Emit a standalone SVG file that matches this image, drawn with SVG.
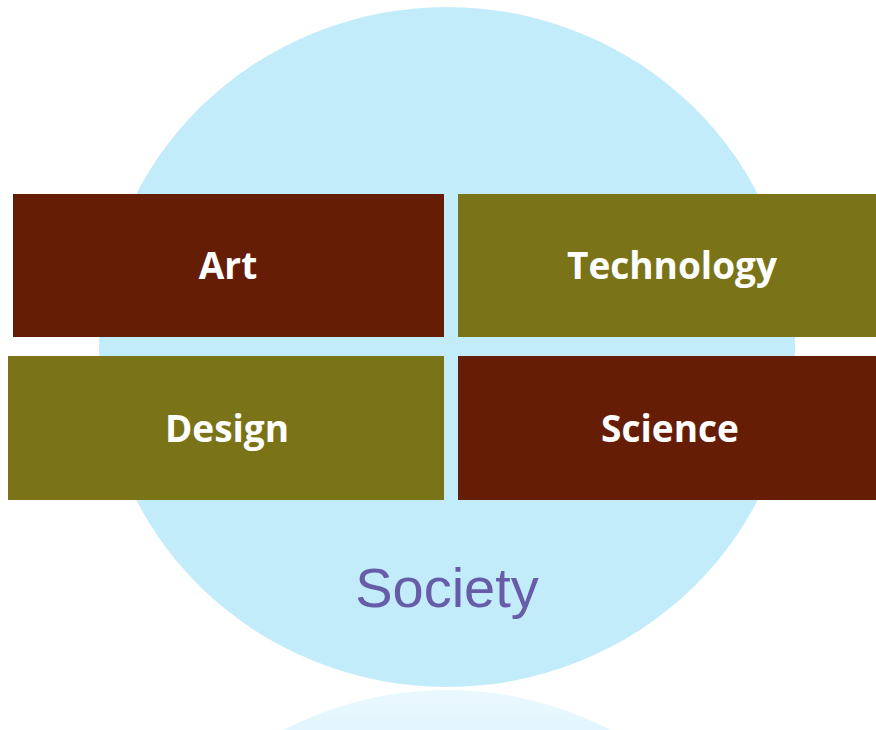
<svg xmlns="http://www.w3.org/2000/svg" width="876" height="730" viewBox="0 0 876 730">
<defs>
<linearGradient id="refl" x1="0" y1="0" x2="0" y2="1" gradientUnits="objectBoundingBox">
<stop offset="0" stop-color="#c3ecfb" stop-opacity="0.35"/>
<stop offset="0.1" stop-color="#c3ecfb" stop-opacity="0.55"/>
<stop offset="0.3" stop-color="#c3ecfb" stop-opacity="0"/>
</linearGradient>
<style>
.box text{font-family:"Open Sans","DejaVu Sans",sans-serif;font-weight:bold;font-size:37px;fill:#ffffff;text-anchor:middle}
.red{fill:#661d06}
.olive{fill:#7a7318}
</style>
</defs>
<rect width="876" height="730" fill="#ffffff"/>
<g id="society">
<ellipse cx="447" cy="347" rx="348" ry="340" fill="#c3ecfb"/>
<ellipse cx="447" cy="1030" rx="348" ry="340" fill="url(#refl)"/>
<text x="447" y="607" font-family="Liberation Sans, Arial, sans-serif" font-size="56" fill="#665ca8" text-anchor="middle">Society</text>
</g>
<g id="art" class="box">
<rect class="red" x="13" y="194" width="431" height="143"/>
<text x="228" y="279">Art</text>
</g>
<g id="technology" class="box">
<rect class="olive" x="458" y="194" width="418" height="143"/>
<text x="672" y="279">Technology</text>
</g>
<g id="design" class="box">
<rect class="olive" x="8" y="356" width="436" height="144"/>
<text x="227" y="442">Design</text>
</g>
<g id="science" class="box">
<rect class="red" x="458" y="356" width="418" height="144"/>
<text x="670" y="442">Science</text>
</g>
<g id="connectors"></g>
</svg>
